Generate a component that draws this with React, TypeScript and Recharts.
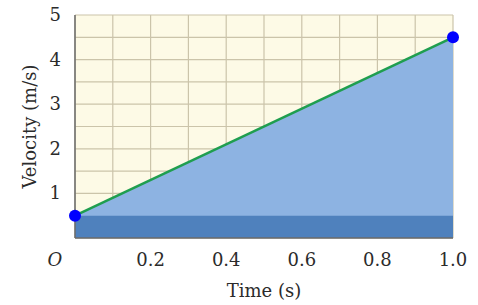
import {
  Area,
  CartesianGrid,
  ComposedChart,
  Line,
  XAxis,
  YAxis,
} from 'recharts';

const times = [0, 1.0];
const velocities = [0.5, 4.5];
const baseVelocities = [0.5, 0.5];

const xGridTicks = [0, 0.1, 0.2, 0.3, 0.4, 0.5, 0.6, 0.7, 0.8, 0.9, 1.0];
const xTickLabels = ['O', '', '0.2', '', '0.4', '', '0.6', '', '0.8', '', '1.0'];
const yGridTicks = [0, 0.5, 1, 1.5, 2, 2.5, 3, 3.5, 4, 4.5, 5];
const yTickLabels = ['', '', '1', '', '2', '', '3', '', '4', '', '5'];

const data = times.map((t, i) => ({
  t,
  v: velocities[i],
  base: baseVelocities[i],
}));

const FONT = '"DejaVu Serif", serif';
const TEXT = '#2b2b2b';

const XTick = ({ x, y, index }: any) => {
  const label = xTickLabels[index];
  if (!label) return null;
  const isOrigin = label === 'O';
  return (
    <text
      x={isOrigin ? x - 20 : x}
      y={y + 20}
      textAnchor="middle"
      fontFamily={FONT}
      fontSize={18}
      fontStyle={isOrigin ? 'italic' : 'normal'}
      fill={TEXT}
    >
      {label}
    </text>
  );
};

const YTick = ({ x, y, index }: any) => {
  const label = yTickLabels[index];
  if (!label) return null;
  return (
    <text
      x={x - 6}
      y={y + 6}
      textAnchor="end"
      fontFamily={FONT}
      fontSize={18}
      fill={TEXT}
    >
      {label}
    </text>
  );
};

export default function App() {
  return (
    <div style={{ position: 'absolute', left: 0, top: 0, background: '#fff' }}>
      <ComposedChart
        width={478}
        height={305}
        data={data}
        margin={{ top: 15, right: 25, bottom: 0, left: 0 }}
      >
        <CartesianGrid
          fill="#fdfae6"
          stroke="#cbc4aa"
          strokeWidth={1.2}
        />
        <XAxis
          type="number"
          dataKey="t"
          domain={[0, 1]}
          ticks={xGridTicks}
          interval={0}
          height={67}
          tickLine={false}
          axisLine={{ stroke: '#6b6b6b', strokeWidth: 1.5 }}
          tick={<XTick />}
          label={{
            value: 'Time (s)',
            position: 'insideBottom',
            offset: 8,
            fontFamily: FONT,
            fontSize: 18,
            fill: TEXT,
          }}
        />
        <YAxis
          type="number"
          domain={[0, 5]}
          ticks={yGridTicks}
          interval={0}
          width={75}
          tickLine={false}
          axisLine={{ stroke: '#6b6b6b', strokeWidth: 1.5 }}
          tick={<YTick />}
          label={{
            value: 'Velocity (m/s)',
            angle: -90,
            position: 'insideLeft',
            offset: 30,
            style: { textAnchor: 'middle' },
            fontFamily: FONT,
            fontSize: 18,
            fill: TEXT,
          }}
        />
        <Area
          type="linear"
          dataKey="v"
          stroke="none"
          fill="#8db3e2"
          fillOpacity={1}
          isAnimationActive={false}
        />
        <Area
          type="linear"
          dataKey="base"
          stroke="none"
          fill="#4f81bd"
          fillOpacity={1}
          isAnimationActive={false}
        />
        <Line
          type="linear"
          dataKey="v"
          stroke="#1f9e4f"
          strokeWidth={2.5}
          dot={{ r: 6, fill: '#0000ff', stroke: 'none' }}
          isAnimationActive={false}
        />
      </ComposedChart>
    </div>
  );
}
